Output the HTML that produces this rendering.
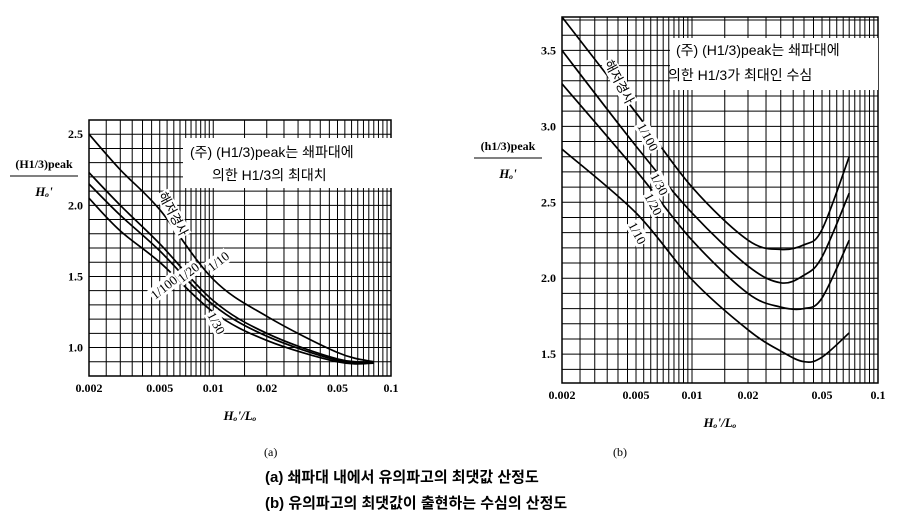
<!DOCTYPE html>
<html><head><meta charset="utf-8"><style>
body{margin:0;background:#fff;width:898px;height:526px;overflow:hidden}
svg{font-family:"Liberation Serif","Noto Serif CJK SC",serif}
.k{font-family:"Liberation Sans","Noto Sans CJK KR",sans-serif}
</style></head><body>
<svg id="s" width="898" height="526">
<g id="ga"></g>
<g id="gb"></g>
<text x="264" y="456" font-size="12">(a)</text>
<text x="613" y="456" font-size="12">(b)</text>
<text class="k" x="265" y="482" font-size="15" font-weight="bold">(a) 쇄파대 내에서 유의파고의 최댓값 산정도</text>
<text class="k" x="265" y="508" font-size="15" font-weight="bold">(b) 유의파고의 최댓값이 출현하는 수심의 산정도</text>
</svg>
<script>
const xTicks=[0.002,0.005,0.01,0.02,0.05,0.1];
const xTickLabels=["0.002","0.005","0.01","0.02","0.05","0.1"];
const aYTicks=[1.0,1.5,2.0,2.5];
const bYTicks=[1.5,2.0,2.5,3.0,3.5];
const aX=[0.002,0.003,0.005,0.01,0.02,0.05,0.08];
const a10=[2.5,2.25,1.97,1.48,1.22,0.965,0.9];
const a20=[2.23,2.0,1.73,1.33,1.1,0.92,0.9];
const a30=[2.15,1.93,1.68,1.3,1.08,0.91,0.89];
const a100=[2.05,1.82,1.6,1.25,1.05,0.9,0.89];
const bX=[0.002,0.005,0.01,0.02,0.03,0.04,0.05,0.07];
const b100=[3.72,3.09,2.6,2.25,2.19,2.22,2.32,2.8];
const b30=[3.5,2.87,2.43,2.08,1.97,2.02,2.14,2.56];
const b20=[3.28,2.71,2.25,1.9,1.81,1.8,1.87,2.25];
const b10=[2.85,2.43,1.99,1.66,1.52,1.45,1.48,1.64];
const NS="http://www.w3.org/2000/svg";
function mk(p,t,a,txt){const e=document.createElementNS(NS,t);for(const k in a)e.setAttribute(k,a[k]);if(txt!=null)e.textContent=txt;p.appendChild(e);return e;}
function smooth(P){let d='M'+P[0][0].toFixed(1)+','+P[0][1].toFixed(1);
 for(let i=0;i<P.length-1;i++){const p0=P[i-1]||P[i],p1=P[i],p2=P[i+1],p3=P[i+2]||p2;
  const c1=[p1[0]+(p2[0]-p0[0])/6,p1[1]+(p2[1]-p0[1])/6],c2=[p2[0]-(p3[0]-p1[0])/6,p2[1]-(p3[1]-p1[1])/6];
  d+=` C${c1[0].toFixed(1)},${c1[1].toFixed(1)} ${c2[0].toFixed(1)},${c2[1].toFixed(1)} ${p2[0].toFixed(1)},${p2[1].toFixed(1)}`;}
 return d;}
function chart(g,L,R,T,B,ymin,ymax,yt,series,names,ylab,note1,note2,labels){
 const sx=v=>L+(Math.log10(v)-Math.log10(0.002))/(Math.log10(0.1)-Math.log10(0.002))*(R-L);
 const sy=v=>B-(v-ymin)/(ymax-ymin)*(B-T);
 const vx=[];for(let d of [0.001,0.01])for(let m=1;m<=9.5;m+=0.5){const v=d*m;if(v>=0.002&&v<=0.1)vx.push(v);}
 vx.forEach(v=>{const l=mk(g,'line',{x1:sx(v),x2:sx(v),y1:T,y2:B,stroke:'#000','stroke-width':1});});
 for(let v=Math.ceil(ymin*10)/10;v<=ymax;v+=0.1){const l=mk(g,'line',{x1:L,x2:R,y1:sy(v),y2:sy(v),stroke:'#000','stroke-width':1});}
 const f=mk(g,'rect',{x:L,y:T,width:R-L,height:B-T,fill:'none',stroke:'#000','stroke-width':1.5});
 const nb=mk(g,'rect',note1.box);
 const n1=mk(g,'text',{x:note1.x,y:note1.y,'font-size':14,class:'k'},note1.t);
 const n2=mk(g,'text',{x:note2.x,y:note2.y,'font-size':14,class:'k'},note2.t);
 series.forEach((s,i)=>{const [xs,ys]=s;const d=smooth(xs.map((x,j)=>[sx(x),sy(ys[j])]));
  const p=mk(g,'path',{d:d,fill:'none',stroke:'#000','stroke-width':1.7});});
 labels.forEach(lb=>{const t=mk(g,'text',{x:lb[0],y:lb[1],'font-size':13,transform:`rotate(${lb[3]} ${lb[0]} ${lb[1]})`,class:lb[4]||''},lb[2]);
  const bb=t.getBBox();const r=mk(g,'rect',{x:bb.x-1,y:bb.y,width:bb.width+2,height:bb.height,fill:'#fff',transform:`rotate(${lb[3]} ${lb[0]} ${lb[1]})`});g.insertBefore(r,t);
  });
 xTicks.forEach((v,i)=>{const t=mk(g,'text',{x:sx(v),y:B+16,'font-size':12,'font-weight':'bold','text-anchor':'middle'},xTickLabels[i]);});
 yt.forEach(v=>{const t=mk(g,'text',{x:L-6,y:sy(v)+4,'font-size':12,'font-weight':'bold','text-anchor':'end'},v.toFixed(1));});
 const xl=mk(g,'text',{x:(L+R)/2,y:B+44,'font-size':13,'font-style':'italic','font-weight':'bold','text-anchor':'middle'},"Hₒ'/Lₒ");
 const y1=mk(g,'text',{x:ylab.x,y:ylab.y,'font-size':12,'font-weight':'bold','text-anchor':'middle'},ylab.t);
 mk(g,'line',{x1:ylab.x-34,x2:ylab.x+34,y1:ylab.y+8,y2:ylab.y+8,stroke:'#000'});
 const y2=mk(g,'text',{x:ylab.x,y:ylab.y+28,'font-size':13,'font-weight':'bold','font-style':'italic','text-anchor':'middle'},"Hₒ'");
}
chart(document.getElementById('ga'),89,391,120,376,0.8,2.6,aYTicks,[[aX,a10],[aX,a20],[aX,a30],[aX,a100]],['1-10','1-20','1-30','1-100'],
 {x:44,y:168,t:'(H1/3)peak'},
 {box:{x:183,y:138,width:210,height:50,fill:'#fff'},x:190,y:157,t:'(주) (H1/3)peak는 쇄파대에'},
 {x:212,y:180,t:'의한 H1/3의 최대치'},
 [[158,195,'해저경사',62,'k'],[212,272,'1/10',-38],[182,283,'1/20',-38],[155,300,'1/100',-38],[207,315,'1/30',62]]);
chart(document.getElementById('gb'),562,878,17,383,1.31,3.72,bYTicks,[[bX,b100],[bX,b30],[bX,b20],[bX,b10]],['1-100','1-30','1-20','1-10'],
 {x:508,y:150,t:'(h1/3)peak'},
 {box:{x:670,y:38,width:208,height:52,fill:'#fff'},x:676,y:55,t:'(주) (H1/3)peak는 쇄파대에'},
 {x:668,y:80,t:'의한 H1/3가 최대인 수심'},
 [[604,63,'해저경사',62,'k'],[637,126,'1/100',62],[650,176,'1/30',62],[644,196,'1/20',62],[628,225,'1/10',62]]);
</script>
</body></html>
